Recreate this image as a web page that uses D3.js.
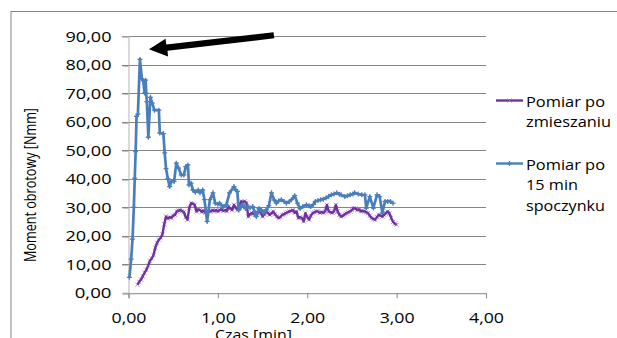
<!DOCTYPE html>
<html><head><meta charset="utf-8">
<script src="https://cdn.jsdelivr.net/npm/d3@7"></script>
<style>
body{margin:0;background:#fff;}
svg{display:block;}
text{font-family:"Open Sans",sans-serif;fill:#000;}
</style>
</head><body>
<svg id="c" width="617" height="338"></svg>
<script>
// ---- data ----
const xTicks = [0, 1, 2, 3, 4];
const yTicks = [0, 10, 20, 30, 40, 50, 60, 70, 80, 90];
const xTitle = "Czas [min]";
const yTitle = "Moment obrotowy [Nmm]";
const mixName = ["Pomiar po", "zmieszaniu"];
const restName = ["Pomiar po", "15 min", "spoczynku"];

// "Pomiar po zmieszaniu" (purple)
const mixTime = [
0.10,0.12,0.14,0.16,0.18,0.20,0.22,0.24,0.26,0.28,
0.30,0.32,0.34,0.36,0.38,0.40,0.42,0.44,0.46,0.48,
0.50,0.52,0.54,0.56,0.58,0.60,0.62,0.64,0.66,0.68,
0.70,0.72,0.74,0.76,0.78,0.80,0.82,0.84,0.86,0.88,
0.90,0.92,0.94,0.96,0.98,1.00,1.02,1.04,1.06,1.08,
1.10,1.12,1.14,1.16,1.18,1.20,1.22,1.24,1.26,1.28,
1.30,1.32,1.34,1.36,1.38,1.40,1.42,1.44,1.46,1.48,
1.50,1.52,1.54,1.56,1.58,1.60,1.62,1.64,1.66,1.68,
1.70,1.72,1.74,1.76,1.78,1.80,1.82,1.84,1.86,1.88,
1.90,1.92,1.94,1.96,1.98,2.00,2.02,2.04,2.06,2.08,
2.10,2.12,2.14,2.16,2.18,2.20,2.22,2.24,2.26,2.28,
2.30,2.32,2.34,2.36,2.38,2.40,2.42,2.44,2.46,2.48,
2.50,2.52,2.54,2.56,2.58,2.60,2.62,2.64,2.66,2.68,
2.70,2.72,2.74,2.76,2.78,2.80,2.82,2.84,2.86,2.88,
2.90,2.92,2.94,2.96,2.98,3.00];
const mixValue = [
2.8,3.8,4.6,5.8,7.0,8.0,9.5,11.2,12.0,13.2,
15.8,17.5,18.6,19.2,20.5,24.0,26.7,26.0,26.5,26.2,
27.0,27.3,28.5,28.8,29.0,28.6,28.3,26.5,25.6,29.7,
31.4,31.2,30.8,28.5,29.2,29.0,28.3,28.8,28.0,27.9,
28.5,28.5,29.0,28.6,29.0,28.5,29.0,29.2,28.7,29.0,
28.6,30.2,29.5,29.0,30.8,29.8,29.0,30.5,32.0,31.8,
32.0,31.5,26.7,27.5,27.9,27.6,27.3,27.8,28.5,28.0,
26.7,27.5,28.5,28.0,27.3,27.8,28.5,27.5,26.7,26.2,
26.5,27.3,27.5,27.9,28.2,28.5,28.7,29.0,28.0,28.5,
26.2,26.5,26.2,25.0,27.9,26.5,25.6,27.0,27.9,28.2,
28.5,28.5,28.0,28.3,28.0,28.5,30.8,28.5,28.2,28.0,
28.5,30.8,28.5,27.3,26.7,27.0,27.5,27.9,28.2,28.5,
29.0,29.7,29.5,29.0,29.2,28.5,28.7,28.5,28.2,27.9,
27.0,26.2,25.8,25.6,26.5,27.3,27.0,26.7,27.3,27.9,
28.5,27.8,26.2,24.8,24.2,23.8];

// "Pomiar po 15 min spoczynku" (blue)
const restTime = [
0.01,0.03,0.045,0.06,0.07,0.08,0.09,0.105,0.128,0.15,
0.165,0.18,0.192,0.198,0.205,0.222,0.245,0.265,0.29,0.34,
0.35,0.39,0.405,0.42,0.44,0.46,0.48,0.51,0.535,0.56,
0.59,0.62,0.64,0.665,0.676,0.70,0.72,0.747,0.78,0.80,
0.83,0.85,0.88,0.91,0.945,0.97,1.00,1.02,1.057,1.095,
1.13,1.18,1.20,1.218,1.232,1.26,1.28,1.31,1.337,1.36,
1.39,1.41,1.43,1.46,1.487,1.51,1.54,1.57,1.60,1.63,
1.655,1.68,1.71,1.74,1.767,1.80,1.823,1.86,1.89,1.92,
1.95,1.99,2.02,2.04,2.07,2.09,2.12,2.15,2.18,2.21,
2.24,2.27,2.30,2.33,2.36,2.38,2.42,2.45,2.48,2.51,
2.53,2.57,2.61,2.645,2.66,2.70,2.74,2.78,2.81,2.84,
2.87,2.90,2.93,2.96];
const restValue = [
5.4,11.8,18.8,30.0,40.2,49.5,61.8,62.6,81.8,75.0,
74.4,70.0,74.5,70.0,67.0,54.5,68.5,66.5,64.0,64.0,
56.0,55.8,49.0,43.5,40.0,37.2,39.0,39.0,45.4,43.7,
41.3,41.3,44.2,44.8,37.8,38.4,36.0,35.2,36.0,35.0,
36.0,32.6,25.0,32.6,35.0,31.4,31.0,31.4,30.2,30.8,
35.0,37.2,36.0,35.5,29.0,30.0,30.8,29.5,30.2,29.8,
30.2,28.5,26.7,29.5,29.0,28.0,29.0,30.5,35.0,32.5,
31.4,32.2,32.6,32.0,31.4,32.0,32.6,34.0,31.4,29.5,
30.2,30.8,30.5,30.2,31.0,32.0,32.3,32.6,32.8,33.2,
33.8,34.3,34.6,35.0,34.5,34.3,33.7,34.0,34.3,34.6,
35.0,34.6,34.3,34.3,29.7,33.7,29.7,34.3,33.7,28.0,
32.0,32.0,32.0,31.4];

// ---- drawing ----
const svg = d3.select("#c");
const purple = "#7030a0", purpleMk = "#9a70c0";
const blue = "#4a7ebb", blueMk = "#4a7ebb";
const x = d3.scaleLinear().domain([0, 4]).range([128.5, 486]);
const y = d3.scaleLinear().domain([0, 90]).range([292.7, 36]);
const fmt = v => d3.format(".2f")(v).replace(".", ",");

// outer chart border
svg.append("rect").attr("x", 11).attr("y", 11.5).attr("width", 700).attr("height", 400)
  .attr("fill", "none").attr("stroke", "#868686").attr("stroke-width", 1);

// gridlines
svg.append("g").selectAll("line").data(yTicks.filter(v => v > 0)).join("line")
  .attr("x1", 122).attr("x2", 486)
  .attr("y1", d => Math.round(y(d)) + 0.5).attr("y2", d => Math.round(y(d)) + 0.5)
  .attr("stroke", "#868686").attr("stroke-width", 1);

// y axis
const ya = svg.append("g").attr("transform", "translate(128.5,0)")
  .call(d3.axisLeft(y).tickValues(yTicks).tickFormat(fmt).tickSize(6).tickPadding(11));
ya.select(".domain").attr("stroke", "#b3b3b3");
ya.selectAll(".tick line").attr("stroke", "#868686")
  .attr("transform", d => `translate(0,${Math.round(y(d)) + 0.5 - y(d)})`);
ya.selectAll(".tick text").attr("font-family", "Open Sans").attr("font-size", 14.5)
  .attr("fill", "#000").attr("dy", "0.36em")
  .attr("textLength", d => fmt(d).length * 9.2).attr("lengthAdjust", "spacingAndGlyphs");

// x axis
const xa = svg.append("g").attr("transform", "translate(0,293.2)")
  .call(d3.axisBottom(x).tickValues(xTicks).tickFormat(fmt).tickSize(5).tickPadding(10));
xa.select(".domain").attr("stroke", "#868686");
xa.selectAll(".tick line").attr("stroke", "#868686");
xa.selectAll(".tick text").attr("font-family", "Open Sans").attr("font-size", 14)
  .attr("fill", "#000").attr("y", 30.3).attr("dy", 0)
  .attr("textLength", 35).attr("lengthAdjust", "spacingAndGlyphs");

// axis titles
svg.append("text").attr("x", 215).attr("y", 339.5).attr("font-size", 14.5)
  .attr("textLength", 77).attr("lengthAdjust", "spacingAndGlyphs").text(xTitle);
svg.append("text").attr("transform", "translate(35.5,262) rotate(-90)")
  .attr("font-size", 16.5).attr("textLength", 154).attr("lengthAdjust", "spacingAndGlyphs")
  .text(yTitle);

// series
const line = d3.line().x(d => x(d[0])).y(d => y(d[1]));
const mixData = mixTime.map((t, i) => [t, mixValue[i]]);
const restData = restTime.map((t, i) => [t, restValue[i]]);

function crossX(g, data, color, s) {
  g.selectAll("path.mk").data(data).join("path").attr("class", "mk")
    .attr("d", d => { const cx = x(d[0]), cy = y(d[1]);
      return `M${cx-s},${cy-s}L${cx+s},${cy+s}M${cx-s},${cy+s}L${cx+s},${cy-s}`; })
    .attr("stroke", color).attr("stroke-width", 0.7).attr("fill", "none");
}
function crossPlus(g, data, color, s) {
  g.selectAll("path.mk").data(data).join("path").attr("class", "mk")
    .attr("d", d => { const cx = x(d[0]), cy = y(d[1]);
      return `M${cx-s},${cy}L${cx+s},${cy}M${cx},${cy-s}L${cx},${cy+s}`; })
    .attr("stroke", color).attr("stroke-width", 1.3).attr("fill", "none");
}

const gMix = svg.append("g");
crossX(gMix, mixData, purpleMk, 2.2);
gMix.append("path").datum(mixData).attr("d", line).attr("fill", "none")
  .attr("stroke", purple).attr("stroke-width", 2.4).attr("stroke-linejoin", "round");

const gRest = svg.append("g");
gRest.append("path").datum(restData).attr("d", line).attr("fill", "none")
  .attr("stroke", blue).attr("stroke-width", 2.7).attr("stroke-linejoin", "round");
crossPlus(gRest, restData, blueMk, 2.5);

// arrow annotation
svg.append("path")
  .attr("d", "M273.5,32.3 L274.3,38.3 L167.5,50.8 L168,56.5 L149,49.3 L165.5,38.8 L166.3,44.6 Z")
  .attr("fill", "#000");

// legend
const lg = svg.append("g");
const legendItems = [
  {name: mixName, color: purple, mk: purpleMk, y0: 100.5, widths: [79, 85]},
  {name: restName, color: blue, mk: blueMk, y0: 163.5, widths: [79, 52, 79]}
];
legendItems.forEach((it, k) => {
  lg.append("line").attr("x1", 496).attr("x2", 523).attr("y1", it.y0).attr("y2", it.y0)
    .attr("stroke", it.color).attr("stroke-width", 2.4);
  if (k === 0) {
    lg.append("path").attr("d", `M507.5,${it.y0-2}L511.5,${it.y0+2}M507.5,${it.y0+2}L511.5,${it.y0-2}`)
      .attr("stroke", it.mk).attr("stroke-width", 0.8);
  } else {
    lg.append("path").attr("d", `M507,${it.y0}L512,${it.y0}M509.5,${it.y0-2.5}L509.5,${it.y0+2.5}`)
      .attr("stroke", it.mk).attr("stroke-width", 1.3);
  }
  it.name.forEach((s, j) => {
    lg.append("text").attr("x", 526).attr("y", it.y0 + 6 + j * 20.5)
      .attr("font-size", 14.5).attr("textLength", it.widths[j])
      .attr("lengthAdjust", "spacingAndGlyphs").text(s);
  });
});
</script>
</body></html>
